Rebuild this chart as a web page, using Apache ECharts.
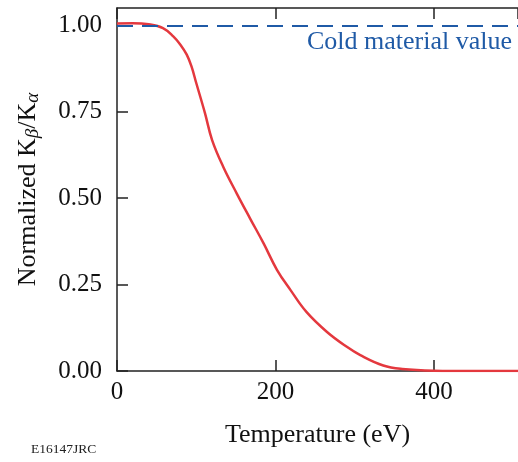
<!DOCTYPE html>
<html lang="en">
<head>
    <meta charset="UTF-8">
    <title>Kb/Ka vs temperature</title>
    <script src="https://cdn.jsdelivr.net/npm/echarts@6/dist/echarts.min.js"></script>
    <style>
        body { margin: 0; background: #fff; }
    </style>
</head>
<body>
    <div id="main" style="width: 518px; height: 462px;"></div>
    <script>
        // temperature (eV) and normalized Kb/Ka
        const temperature = [0, 20, 40, 58, 71, 80, 88, 94, 100, 111, 120, 134, 151, 168, 185, 202, 219, 239, 265, 290, 307, 336, 360, 400, 450, 506];
        const ratio = [1.005, 1.006, 1.003, 0.992, 0.968, 0.944, 0.915, 0.881, 0.833, 0.746, 0.668, 0.591, 0.514, 0.441, 0.369, 0.292, 0.234, 0.171, 0.113, 0.07, 0.046, 0.016, 0.006, 0.001, 0, 0];
        const coldValue = 1.0;
        const xTicks = [0, 200, 400];
        const yTicks = [0, 0.25, 0.5, 0.75, 1.0];

        const serif = 'Liberation Serif';
        var myChart = echarts.init(document.getElementById('main'));

        let option = {
            animation: false,
            grid: { left: 117, right: 0, top: 8, bottom: 91 },
            xAxis: [
                {
                    type: 'value',
                    min: 0,
                    max: 506,
                    interval: 200,
                    splitLine: { show: false },
                    axisLine: { lineStyle: { color: '#222', width: 1.5 } },
                    axisTick: { inside: true, length: 11, lineStyle: { color: '#222', width: 1.5 } },
                    axisLabel: {
                        showMaxLabel: false, margin: 9, color: '#111',
                        fontFamily: serif, fontSize: 25,
                        formatter: v => xTicks.includes(v) ? String(v) : ''
                    },
                    name: 'Temperature (eV)',
                    nameLocation: 'middle',
                    nameGap: 51,
                    nameTextStyle: { fontFamily: serif, fontSize: 26, color: '#111' }
                },
                {
                    type: 'value',
                    position: 'top',
                    min: 0,
                    max: 506,
                    interval: 200,
                    splitLine: { show: false },
                    axisLine: { show: true, lineStyle: { color: '#222', width: 1.5 } },
                    axisTick: { inside: true, length: 11, lineStyle: { color: '#222', width: 1.5 } },
                    axisLabel: { show: false }
                }
            ],
            yAxis: {
                type: 'value',
                min: 0,
                max: 1.05,
                interval: 0.25,
                splitLine: { show: false },
                axisLine: { show: true, lineStyle: { color: '#222', width: 1.5 } },
                axisTick: { inside: true, length: 11, lineStyle: { color: '#222', width: 1.5 } },
                axisLabel: {
                    showMaxLabel: false, margin: 15, color: '#111',
                    fontFamily: serif, fontSize: 25,
                    formatter: v => yTicks.includes(v) ? v.toFixed(2) : ''
                },
                name: 'Normalized K{sub|β}/K{sub|α}',
                nameLocation: 'middle',
                nameGap: 75,
                nameTextStyle: {
                    fontFamily: serif, fontSize: 26, color: '#111',
                    rich: {
                        sub: {
                            fontFamily: serif, fontSize: 19, fontStyle: 'italic',
                            color: '#111', verticalAlign: 'bottom', padding: [8, 0, 0, 0]
                        }
                    }
                }
            },
            graphic: [
                {
                    type: 'text',
                    right: 6,
                    top: 29,
                    style: { text: 'Cold material value', fill: '#1f5aa6', font: '26px "Liberation Serif"' }
                },
                {
                    type: 'text',
                    left: 31,
                    top: 442,
                    style: { text: 'E16147JRC', fill: '#222', font: '13.5px "Liberation Serif"' }
                }
            ],
            series: [
                {
                    type: 'line',
                    data: temperature.map((t, i) => [t, ratio[i]]),
                    smooth: 0.4,
                    showSymbol: false,
                    lineStyle: { color: '#e4383e', width: 2.5 },
                    z: 3,
                    markLine: {
                        silent: true,
                        symbol: 'none',
                        label: { show: false },
                        lineStyle: { color: '#1f5aa6', type: [16, 9], width: 2 },
                        data: [{ yAxis: coldValue }]
                    }
                }
            ]
        };

        myChart.setOption(option);
    </script>
</body>
</html>
